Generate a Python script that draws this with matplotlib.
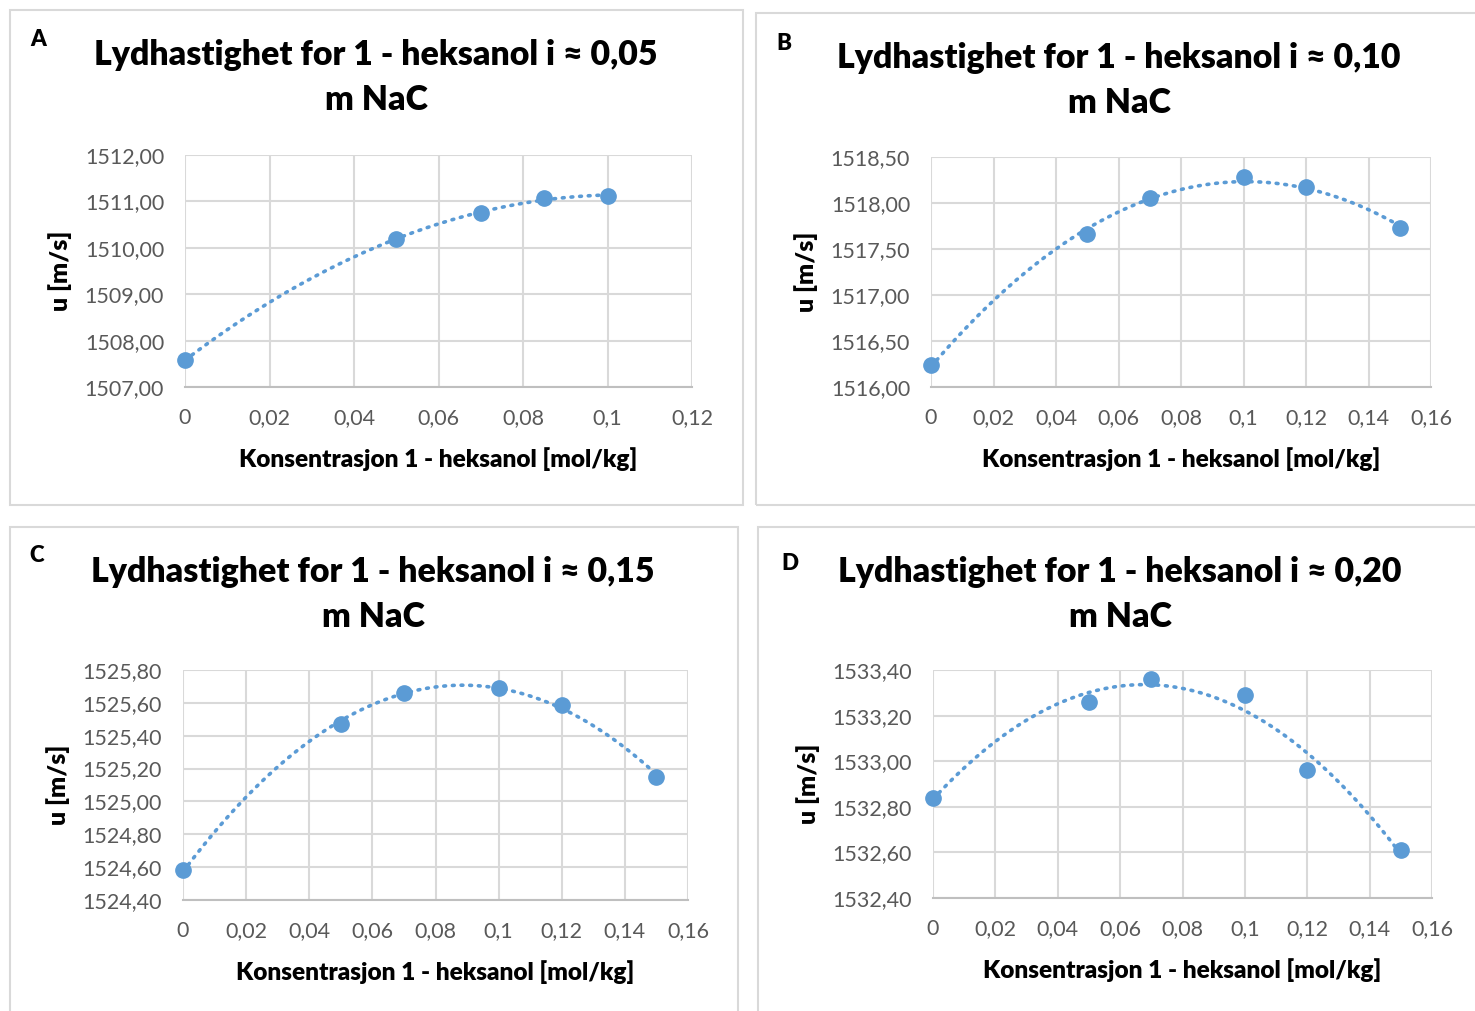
import numpy as np
import matplotlib
matplotlib.use("Agg")
import matplotlib.pyplot as plt
from matplotlib.patches import Rectangle
from matplotlib.ticker import FuncFormatter, MultipleLocator

plt.rcParams['font.family'] = ['Lato', 'DejaVu Sans']

# ---- data ----
x_A = [0, 0.05, 0.07, 0.085, 0.1]
u_A = [1507.58, 1510.19, 1510.75, 1511.07, 1511.12]

x_B = [0, 0.05, 0.07, 0.1, 0.12, 0.15]
u_B = [1516.24, 1517.66, 1518.05, 1518.28, 1518.17, 1517.73]

x_C = [0, 0.05, 0.07, 0.1, 0.12, 0.15]
u_C = [1524.58, 1525.47, 1525.66, 1525.69, 1525.59, 1525.15]

x_D = [0, 0.05, 0.07, 0.1, 0.12, 0.15]
u_D = [1532.84, 1533.26, 1533.36, 1533.29, 1532.96, 1532.61]

titles1 = ["Lydhastighet for 1 - heksanol i \u2248 0,05",
           "Lydhastighet for 1 - heksanol i \u2248 0,10",
           "Lydhastighet for 1 - heksanol i \u2248 0,15",
           "Lydhastighet for 1 - heksanol i \u2248 0,20"]
title2 = "m NaC"
letters = ["A", "B", "C", "D"]
xlabel = "Konsentrasjon 1 - heksanol [mol/kg]"
ylabel = "u [m/s]"

# ---- layout (pixels) ----
W, H = 1475, 1011
fig = plt.figure(figsize=(W / 100, H / 100), dpi=100)

def fx(p):
    return p / W

def fy(p):
    return 1 - p / H

panels = [
    dict(box=(10, 10, 743, 505), ax=(185, 155, 692, 387), x=x_A, u=u_A,
         xlim=(0, 0.12), xstep=0.02, ylim=(1507, 1512), ystep=1.0,
         letter=(38, 40), title=(376, 55)),
    dict(box=(756, 13, 1480, 505), ax=(931, 157, 1431, 387), x=x_B, u=u_B,
         xlim=(0, 0.16), xstep=0.02, ylim=(1516, 1518.5), ystep=0.5,
         letter=(784, 43), title=(1119, 58)),
    dict(box=(10, 527, 738, 1020), ax=(183, 670, 688, 900), x=x_C, u=u_C,
         xlim=(0, 0.16), xstep=0.02, ylim=(1524.4, 1525.8), ystep=0.2,
         letter=(37, 556), title=(373, 572)),
    dict(box=(758, 527, 1480, 1020), ax=(933, 670, 1432, 898), x=x_D, u=u_D,
         xlim=(0, 0.16), xstep=0.02, ylim=(1532.4, 1533.4), ystep=0.2,
         letter=(790, 563), title=(1120, 572)),
]

blue = "#5B9BD5"
grid_c = "#D9D9D9"
tick_c = "#595959"

def xfmt(v, pos):
    s = "{:g}".format(round(v, 6))
    return s.replace(".", ",")

def yfmt(v, pos):
    return "{:.2f}".format(v).replace(".", ",")

for i, p in enumerate(panels):
    bx0, by0, bx1, by1 = p["box"]
    fig.patches.append(Rectangle((fx(bx0), fy(by1)), fx(bx1) - fx(bx0), fy(by0) - fy(by1),
                                 transform=fig.transFigure, fill=False,
                                 edgecolor=grid_c, linewidth=1.5))
    l, t, r, b = p["ax"]
    ax = fig.add_axes([fx(l), fy(b), fx(r) - fx(l), fy(t) - fy(b)])
    ax.set_xlim(*p["xlim"])
    ax.set_ylim(*p["ylim"])
    ax.xaxis.set_major_locator(MultipleLocator(p["xstep"]))
    ax.yaxis.set_major_locator(MultipleLocator(p["ystep"]))
    ax.xaxis.set_major_formatter(FuncFormatter(xfmt))
    ax.yaxis.set_major_formatter(FuncFormatter(yfmt))
    ax.grid(True, color=grid_c, linewidth=1.5)
    ax.set_axisbelow(True)
    for s in ["top", "right", "left"]:
        ax.spines[s].set_visible(False)
    ax.spines["bottom"].set_color("#BFBFBF")
    ax.spines["bottom"].set_linewidth(1.5)
    ax.tick_params(length=0, labelsize=15.5, colors=tick_c, pad=15)

    xs = np.array(p["x"])
    us = np.array(p["u"])
    coef = np.polyfit(xs, us, 2)
    xx = np.linspace(xs.min(), xs.max(), 200)
    ax.plot(xx, np.polyval(coef, xx), linestyle=(0, (0.5, 1.9)), color=blue,
            linewidth=2.6, dash_capstyle="round", zorder=2)
    ax.plot(xs, us, "o", color=blue, markersize=11, zorder=3, clip_on=False)

    ax.set_xlabel(xlabel, fontsize=17.6, fontweight="heavy", labelpad=14)
    ax.set_ylabel(ylabel, fontsize=18, fontweight="heavy", labelpad=9)

    tx, ty = p["title"]
    fig.text(fx(tx), fy(ty), titles1[i], ha="center", va="center",
             fontsize=24.4, fontweight="heavy")
    fig.text(fx(tx), fy(ty + 45), title2, ha="center", va="center",
             fontsize=24.4, fontweight="heavy")
    lx, ly = p["letter"]
    fig.text(fx(lx), fy(ly), letters[i], ha="center", va="center",
             fontsize=16, fontweight="heavy")

fig.savefig("out.png", dpi=100, facecolor="white")
